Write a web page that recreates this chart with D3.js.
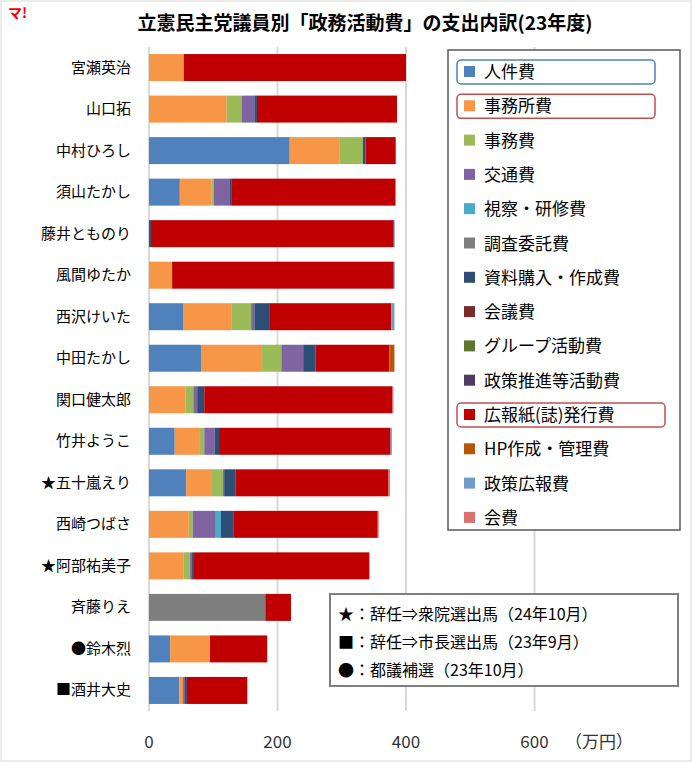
<!DOCTYPE html><html><head><meta charset="utf-8"><script src="https://cdn.jsdelivr.net/npm/d3@7"></script>
<style>body{margin:0;background:#fff}svg{font-family:"Noto Sans CJK JP",sans-serif}</style></head><body><svg id="c" width="692" height="762"></svg>
<script>
const categories=["宮瀬英治","山口拓","中村ひろし","須山たかし","藤井とものり","風間ゆたか","西沢けいた","中田たかし","関口健太郎","竹井ようこ","★五十嵐えり","西崎つばさ","★阿部祐美子","斉藤りえ","●鈴木烈","■酒井大史"];
const seriesNames=["人件費","事務所費","事務費","交通費","視察・研修費","調査委託費","資料購入・作成費","会議費","グループ活動費","政策推進等活動費","広報紙(誌)発行費","HP作成・管理費","政策広報費","会費"];
const colors=["#4F81BD","#F79646","#9BBB59","#8064A2","#4BACC6","#7F7F7F","#2C4D75","#772C2A","#5F7530","#4D3B62","#C00000","#B65708","#729ACA","#D9726E"];
// values per category, in series order
const values=[
[0,53,1,0,0,0,0,0,0,0,346,0,0,0],
[0,121,23,20,0,0,4,0,0,0,218,0,0,0],
[219,78,36,0,0,0,4,0,0,0,47,0,0,0],
[48,49,4,25,0,0,3,0,0,0,254,0,0,1.5],
[0,0,0,0,0,0,3,0,0,0,378,0,1.5,0],
[0,36,0,0,0,0,0,0,0,0,345,0,1.5,0],
[53,75,31,5,0,0,23,0,0,0,190,0,5,0],
[81,95,30,34,0,0,19,0,0,0,115,8,0,0],
[0,57,12,6,0,0,11,0,0,0,293,0,0,1.5],
[40,38,8,16,0,0,7,0,0,0,267,0,2,0],
[58,40,17,2,0,0,18,0,0,0,237,0,0,3],
[0,62,6,36,8,0,20,0,0,0,224,0,0,1.5],
[0,54,10,3,0,0,3,0,0,0,273,0,0,0],
[0,0,0,0,0,181,0,0,0,0,40,0,0,0],
[33,62,0,0,0,0,0,0,0,0,89,0,0,0],
[47,6,0,3,0,0,3,0,0,0,94,0,0,0]];
const xTicks=[0,200,400,600];
const notes=["★：辞任⇒衆院選出馬（24年10月）","■：辞任⇒市長選出馬（23年9月）","●：都議補選（23年10月）"];
const highlight={"人件費":"#4F81BD","事務所費":"#C0504D","広報紙(誌)発行費":"#C0504D"};

const svg=d3.select("#c");
svg.append("rect").attr("x",1).attr("y",1).attr("width",690).attr("height",760).attr("fill","#fff").attr("stroke","#d9d9d9");
svg.append("text").attr("x",8).attr("y",18).attr("fill","#e00").attr("font-weight","bold").attr("font-size",14).text("マ!");
svg.append("text").attr("x",365).attr("y",30).attr("text-anchor","middle").attr("font-size",19).attr("font-weight","bold").text("立憲民主党議員別「政務活動費」の支出内訳(23年度)");
const x=d3.scaleLinear().domain([0,400]).range([149,406]);
const y=d3.scaleBand().domain(categories).range([47,711]).paddingInner(0.35).paddingOuter(0.17);
const g=svg.append("g");
g.selectAll("line.grid").data(xTicks).join("line").attr("x1",d=>x(d)).attr("x2",d=>x(d)).attr("y1",47).attr("y2",711).attr("stroke","#d9d9d9").attr("stroke-width",2);
const stack=d3.stack().keys(d3.range(seriesNames.length)).value((d,k)=>d[k])(values);
stack.forEach((s,k)=>{g.selectAll(null).data(s).join("rect").attr("x",d=>x(d[0])).attr("width",d=>x(d[1])-x(d[0])).attr("y",(d,i)=>y(categories[i])).attr("height",y.bandwidth()).attr("fill",colors[k]);});
g.selectAll("text.cat").data(categories).join("text").attr("x",131).attr("y",d=>y(d)+y.bandwidth()/2+5).attr("text-anchor","end").attr("font-size",15).text(d=>d);
g.selectAll("text.tick").data(xTicks).join("text").attr("x",d=>x(d)).attr("y",748).attr("text-anchor","middle").attr("font-size",17).attr("fill","#333").text(d=>d);
svg.append("text").attr("x",565).attr("y",748).attr("font-size",17).attr("fill","#333").text("（万円）");
// legend
svg.append("rect").attr("x",448).attr("y",50).attr("width",232).attr("height",480).attr("fill","#fff").attr("stroke","#595959").attr("stroke-width",1.5);
seriesNames.forEach((n,i)=>{const yy=72+i*34.3;
 svg.append("rect").attr("x",464).attr("y",yy-6).attr("width",11).attr("height",11).attr("fill",colors[i]);
 svg.append("text").attr("x",484).attr("y",yy+6).attr("font-size",17).text(n);
 if(highlight[n]) svg.append("rect").attr("x",457).attr("y",yy-12).attr("width",n.length>5?208:198).attr("height",24).attr("rx",4).attr("fill","none").attr("stroke",highlight[n]).attr("stroke-width",1.5);
});
svg.append("rect").attr("x",330).attr("y",594).attr("width",348).attr("height",92).attr("fill","#fff").attr("stroke","#7f7f7f").attr("stroke-width",2);
notes.forEach((t,i)=>svg.append("text").attr("x",338).attr("y",620+i*28).attr("font-size",16).text(t));
</script></body></html>
